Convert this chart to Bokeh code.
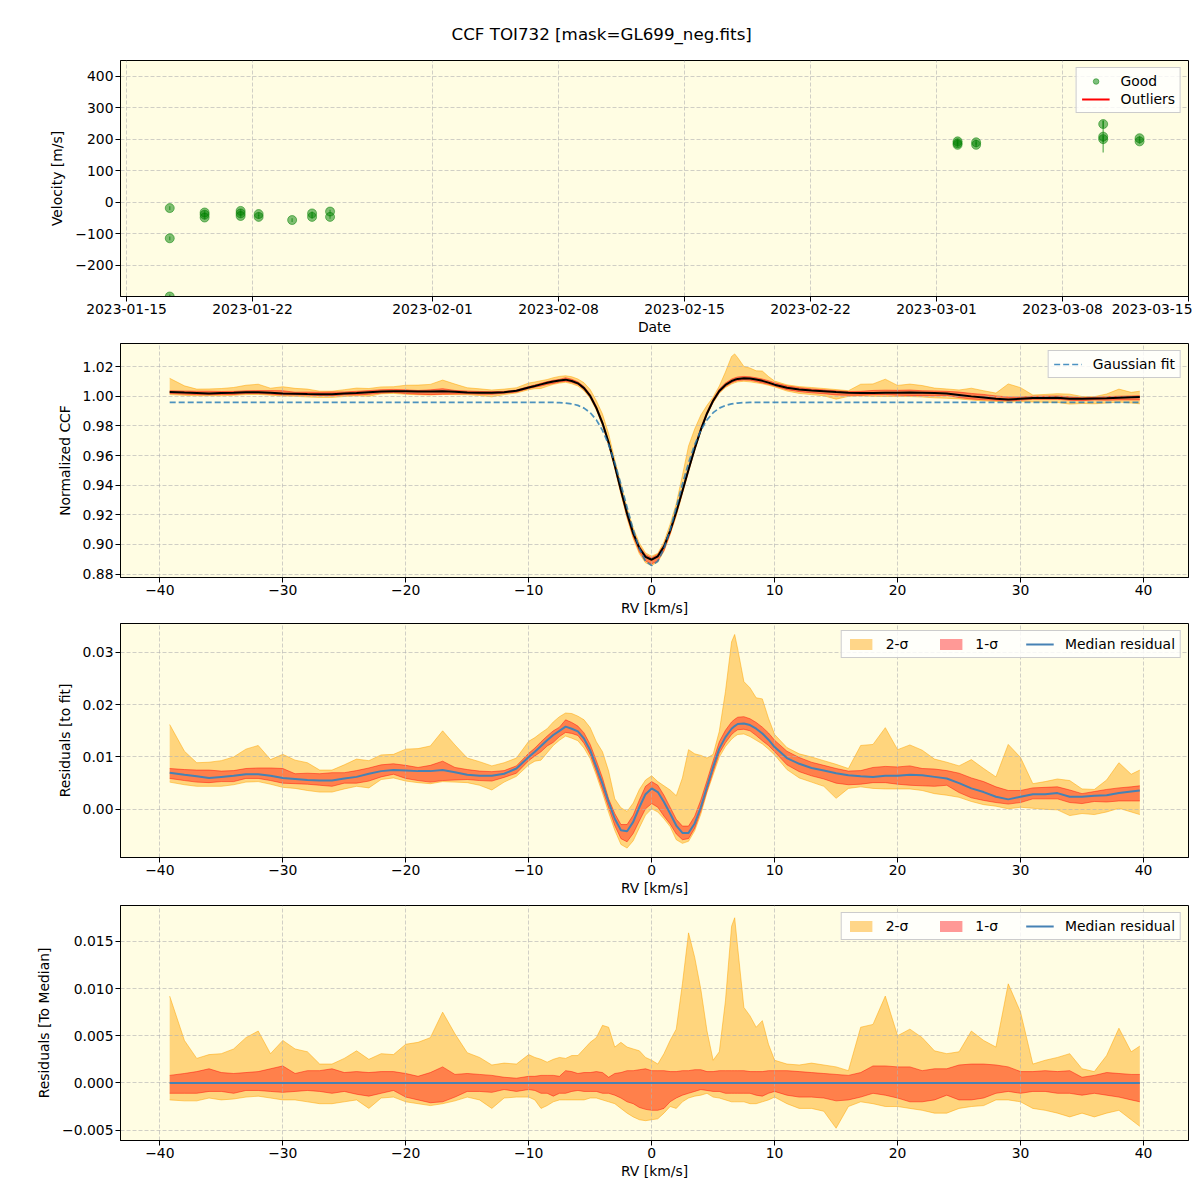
import numpy as np
import pandas as pd
from bokeh.plotting import figure
from bokeh.layouts import column
from bokeh.models import (Range1d, FixedTicker, DatetimeTickFormatter, Legend,
                          LegendItem, ColumnDataSource)
from bokeh.embed import file_html
from bokeh.resources import INLINE

# ---------------- data: RV time series ----------------
obs_time = ["2023-01-17 09:40", "2023-01-17 09:40", "2023-01-17 09:40",
            "2023-01-19 08:10", "2023-01-19 08:10", "2023-01-19 08:10",
            "2023-01-21 08:10", "2023-01-21 08:10", "2023-01-21 08:10",
            "2023-01-22 08:10", "2023-01-22 08:10",
            "2023-01-24 04:50",
            "2023-01-25 07:25", "2023-01-25 07:25",
            "2023-01-26 07:25", "2023-01-26 07:25",
            "2023-03-02 04:05", "2023-03-02 04:05", "2023-03-02 04:05",
            "2023-03-03 04:50", "2023-03-03 04:50",
            "2023-03-10 06:15", "2023-03-10 06:15", "2023-03-10 06:15",
            "2023-03-12 06:45", "2023-03-12 06:45"]
velocity = [-19, -115, -300, -33, -40, -49, -28, -36, -44, -38, -47, -57, -36, -47,
            -30, -47, 193, 187, 182, 190, 182, 248, 208, 200, 203, 193]
vel_err = [6, 6, 6, 6, 6, 6, 6, 6, 6, 6, 6, 6, 6, 6, 6, 6, 8, 8, 8, 8, 8, 12, 50, 10, 8, 8]
# no outliers in this data set
outlier_time = [np.nan]
outlier_velocity = [np.nan]

date_ticks = ["2023-01-15", "2023-01-22", "2023-02-01", "2023-02-08", "2023-02-15",
              "2023-02-22", "2023-03-01", "2023-03-08", "2023-03-15"]
vel_ticks = [-200, -100, 0, 100, 200, 300, 400]
vel_tick_labels = ["\u2212200", "\u2212100", "0", "100", "200", "300", "400"]

# ---------------- data: CCF ----------------
rv = [-39.2, -38, -37, -36, -35, -34, -33, -32, -31, -30, -29, -28, -27, -26, -25,
      -24, -23, -22, -21, -20, -19, -18, -17, -16, -15, -14, -13, -12, -11,
      -10, -9.5, -9, -8.5, -8, -7.5, -7, -6.5, -6, -5.5, -5, -4.5, -4, -3.5, -3, -2.5,
      -2, -1.5, -1, -0.5, 0, 0.5, 1, 1.5, 2, 2.5, 3, 3.5, 4, 4.5, 5, 5.5, 6, 6.5, 6.75,
      7, 7.5, 8, 8.5, 9, 9.5, 10,
      11, 12, 13, 14, 15, 16, 17, 18, 19, 20, 21, 22, 23, 24, 25, 26, 27, 28, 29, 30,
      31, 32, 33, 34, 35, 36, 37, 38, 39, 39.7]

# Gaussian fit parameters
fit_continuum = 0.996
fit_depth = 0.1103
fit_center = 0.0
fit_sigma = 2.13

# median residual to fit
median_residual = [
    0.0070, 0.0066, 0.0063, 0.0060, 0.0062, 0.0064, 0.0067, 0.0067, 0.0064, 0.0060,
    0.0058, 0.0056, 0.0055, 0.0055, 0.0059, 0.0062, 0.0068, 0.0073, 0.0075, 0.0074,
    0.0073, 0.0073, 0.0075, 0.0071, 0.0066, 0.0064, 0.0064, 0.0068, 0.0078,
    0.0100, 0.0110, 0.0121, 0.0132, 0.0142, 0.0150, 0.0158, 0.0154, 0.0149, 0.0135,
    0.0113, 0.0081, 0.0049, 0.0014, -0.0018, -0.0040, -0.0042, -0.0024, 0.0004, 0.0029,
    0.0040, 0.0033, 0.0014, -0.0008, -0.0031, -0.0045, -0.0045, -0.0027, 0.0004, 0.0043,
    0.0081, 0.0116, 0.0138, 0.0154, 0.0159, 0.0163, 0.0164, 0.0161, 0.0154, 0.0145,
    0.0133, 0.0119,
    0.0098, 0.0087, 0.0079, 0.0074, 0.0069, 0.0065, 0.0063, 0.0062, 0.0064, 0.0064,
    0.0066, 0.0065, 0.0062, 0.0059, 0.0050, 0.0040, 0.0033, 0.0024, 0.0019, 0.0024,
    0.0029, 0.0029, 0.0031, 0.0024, 0.0024, 0.0026, 0.0027, 0.0031, 0.0034, 0.0036]

# band offsets relative to the median
upper_2sigma = [
    0.0092, 0.0045, 0.0026, 0.0030, 0.0031, 0.0036, 0.0048, 0.0055, 0.0031, 0.0045,
    0.0036, 0.0033, 0.0020, 0.0020, 0.0026, 0.0034, 0.0025, 0.0031, 0.0030, 0.0041,
    0.0043, 0.0048, 0.0075, 0.0052, 0.0032, 0.0027, 0.0019, 0.0021, 0.0020,
    0.0030, 0.0027, 0.0025, 0.0022, 0.0025, 0.0027, 0.0026, 0.0029, 0.0029, 0.0036,
    0.0043, 0.0048, 0.0061, 0.0059, 0.0038, 0.0043, 0.0038, 0.0036, 0.0034, 0.0027,
    0.0024, 0.0020, 0.0031, 0.0045, 0.0057, 0.0105, 0.0159, 0.0133, 0.0099, 0.0055,
    0.0024, 0.0033, 0.0087, 0.0166, 0.0175, 0.0143, 0.0080, 0.0071, 0.0059, 0.0066,
    0.0041, 0.0024,
    0.0020, 0.0019, 0.0021, 0.0019, 0.0017, 0.0013, 0.0059, 0.0062, 0.0092, 0.0050,
    0.0057, 0.0048, 0.0034, 0.0031, 0.0033, 0.0055, 0.0045, 0.0038, 0.0105, 0.0075,
    0.0020, 0.0024, 0.0027, 0.0031, 0.0015, 0.0012, 0.0029, 0.0058, 0.0033, 0.0039]
upper_1sigma = [
    0.0008, 0.0010, 0.0012, 0.0015, 0.0011, 0.0010, 0.0011, 0.0012, 0.0015, 0.0018,
    0.0010, 0.0013, 0.0013, 0.0015, 0.0011, 0.0012, 0.0011, 0.0012, 0.0012, 0.0010,
    0.0007, 0.0011, 0.0017, 0.0009, 0.0010, 0.0009, 0.0008, 0.0006, 0.0005,
    0.0007, 0.0007, 0.0008, 0.0008, 0.0008, 0.0007, 0.0013, 0.0012, 0.0010, 0.0011,
    0.0011, 0.0012, 0.0011, 0.0006, 0.0010, 0.0011, 0.0013, 0.0013, 0.0014, 0.0015,
    0.0013, 0.0013, 0.0013, 0.0012, 0.0012, 0.0013, 0.0013, 0.0014, 0.0014, 0.0012,
    0.0012, 0.0013, 0.0013, 0.0013, 0.0013, 0.0013, 0.0013, 0.0012, 0.0012, 0.0012,
    0.0013, 0.0013,
    0.0013, 0.0012, 0.0011, 0.0010, 0.0009, 0.0008, 0.0011, 0.0018, 0.0018, 0.0017,
    0.0017, 0.0013, 0.0015, 0.0015, 0.0019, 0.0020, 0.0020, 0.0019, 0.0017, 0.0012,
    0.0012, 0.0013, 0.0012, 0.0013, 0.0006, 0.0008, 0.0011, 0.0010, 0.0009, 0.0009]
lower_1sigma = [
    -0.0011, -0.0011, -0.0011, -0.0009, -0.0009, -0.0011, -0.0008, -0.0008, -0.0009, -0.0010,
    -0.0009, -0.0008, -0.0009, -0.0011, -0.0009, -0.0012, -0.0014, -0.0011, -0.0008, -0.0015,
    -0.0018, -0.0021, -0.0020, -0.0015, -0.0009, -0.0009, -0.0010, -0.0007, -0.0009,
    -0.0007, -0.0008, -0.0011, -0.0011, -0.0014, -0.0011, -0.0011, -0.0009, -0.0008, -0.0009,
    -0.0009, -0.0009, -0.0011, -0.0011, -0.0013, -0.0016, -0.0020, -0.0022, -0.0026, -0.0028,
    -0.0029, -0.0029, -0.0027, -0.0020, -0.0016, -0.0013, -0.0011, -0.0009, -0.0007, -0.0008,
    -0.0009, -0.0009, -0.0011, -0.0011, -0.0011, -0.0011, -0.0011, -0.0011, -0.0013, -0.0014,
    -0.0011, -0.0009,
    -0.0013, -0.0015, -0.0015, -0.0016, -0.0019, -0.0018, -0.0015, -0.0011, -0.0013, -0.0016,
    -0.0020, -0.0020, -0.0018, -0.0013, -0.0018, -0.0018, -0.0016, -0.0011, -0.0009, -0.0011,
    -0.0009, -0.0009, -0.0011, -0.0011, -0.0013, -0.0011, -0.0013, -0.0015, -0.0018, -0.0020]
lower_2sigma = [
    -0.0018, -0.0019, -0.0019, -0.0016, -0.0018, -0.0017, -0.0015, -0.0014, -0.0016, -0.0018,
    -0.0018, -0.0020, -0.0022, -0.0022, -0.0020, -0.0018, -0.0027, -0.0016, -0.0015, -0.0020,
    -0.0022, -0.0024, -0.0022, -0.0019, -0.0015, -0.0018, -0.0027, -0.0016, -0.0015,
    -0.0015, -0.0018, -0.0027, -0.0024, -0.0020, -0.0018, -0.0018, -0.0018, -0.0018, -0.0018,
    -0.0016, -0.0016, -0.0018, -0.0020, -0.0022, -0.0027, -0.0032, -0.0036, -0.0039, -0.0040,
    -0.0039, -0.0038, -0.0032, -0.0025, -0.0027, -0.0020, -0.0016, -0.0014, -0.0013, -0.0011,
    -0.0015, -0.0016, -0.0018, -0.0020, -0.0020, -0.0020, -0.0020, -0.0022, -0.0022, -0.0020,
    -0.0018, -0.0015,
    -0.0022, -0.0027, -0.0027, -0.0030, -0.0048, -0.0025, -0.0020, -0.0022, -0.0025, -0.0025,
    -0.0027, -0.0029, -0.0032, -0.0032, -0.0027, -0.0025, -0.0024, -0.0018, -0.0018, -0.0020,
    -0.0027, -0.0029, -0.0032, -0.0036, -0.0032, -0.0036, -0.0032, -0.0029, -0.0039, -0.0046]

rv_ticks = [-40, -30, -20, -10, 0, 10, 20, 30, 40]
rv_tick_labels = ["\u221240", "\u221230", "\u221220", "\u221210", "0", "10", "20", "30", "40"]
ccf_ticks = [0.88, 0.90, 0.92, 0.94, 0.96, 0.98, 1.00, 1.02]
ccf_tick_labels = ["0.88", "0.90", "0.92", "0.94", "0.96", "0.98", "1.00", "1.02"]
res_ticks = [0.00, 0.01, 0.02, 0.03]
res_tick_labels = ["0.00", "0.01", "0.02", "0.03"]
rmed_ticks = [-0.005, 0.0, 0.005, 0.010, 0.015]
rmed_tick_labels = ["\u22120.005", "0.000", "0.005", "0.010", "0.015"]

# ---------------- derived ----------------
rv_a = np.array(rv, dtype=float)
med = np.array(median_residual)
u2 = np.array(upper_2sigma); u1 = np.array(upper_1sigma)
l1 = np.array(lower_1sigma); l2 = np.array(lower_2sigma)
fit = fit_continuum - fit_depth * np.exp(-0.5 * ((rv_a - fit_center) / fit_sigma) ** 2)
ccf = fit + med

FONT = "DejaVu Sans"
FS = "13.9px"
BG = "#fffde3"
ORANGE = "orange"
RED = "red"
BLUE = "#1f77b4"
W = 1192


def make_fig(height, top, bottom, x_range, y_range, xlabel, ylabel, **kw):
    p = figure(width=W, height=height, x_range=x_range, y_range=y_range,
               output_backend="svg", toolbar_location=None,
               min_border_left=120, min_border_right=4,
               min_border_top=top, min_border_bottom=bottom, **kw)
    p.background_fill_color = BG
    p.border_fill_color = "white"
    p.outline_line_color = "black"
    p.outline_line_width = 1
    p.outline_line_alpha = 1
    for ax in (p.xaxis[0], p.yaxis[0]):
        ax.axis_label_text_font = FONT
        ax.axis_label_text_font_style = "normal"
        ax.axis_label_text_font_size = FS
        ax.axis_label_text_color = "black"
        ax.major_label_text_font = FONT
        ax.major_label_text_font_size = FS
        ax.major_label_text_color = "black"
        ax.major_tick_line_color = "black"
        ax.major_tick_out = 5
        ax.major_tick_in = 0
        ax.minor_tick_line_color = None
        ax.axis_line_color = "black"
        ax.major_label_standoff = 2
    p.xaxis.axis_label = xlabel
    p.yaxis.axis_label = ylabel
    p.xaxis.axis_label_standoff = 2
    p.yaxis.axis_label_standoff = 7
    p.grid.grid_line_color = "#b0b0b0"
    p.grid.grid_line_alpha = 0.6
    p.grid.grid_line_dash = "4 2"
    p.grid.grid_line_width = 1
    return p


def style_legend(leg, horizontal=False):
    leg.label_text_font = FONT
    leg.label_text_font_size = FS
    leg.label_text_color = "black"
    leg.border_line_color = "#cccccc"
    leg.border_line_alpha = 1
    leg.background_fill_color = "white"
    leg.background_fill_alpha = 0.8
    leg.padding = 5
    leg.margin = 7
    leg.spacing = 28 if horizontal else 2
    leg.glyph_width = 28
    leg.glyph_height = 14
    leg.label_standoff = 11
    leg.label_height = 16
    if horizontal:
        leg.orientation = "horizontal"


def add_bands(p, src, lo2, hi2, lo1, hi1):
    b2 = p.varea(x="rv", y1=lo2, y2=hi2, source=src, fill_color=ORANGE,
                 fill_alpha=0.45, level="image")
    p.line(x="rv", y=lo2, source=src, line_color=ORANGE, line_alpha=0.5, line_width=1, level="image")
    p.line(x="rv", y=hi2, source=src, line_color=ORANGE, line_alpha=0.5, line_width=1, level="image")
    b1 = p.varea(x="rv", y1=lo1, y2=hi1, source=src, fill_color=RED,
                 fill_alpha=0.4, level="image")
    p.line(x="rv", y=lo1, source=src, line_color=RED, line_alpha=0.45, line_width=1, level="image")
    p.line(x="rv", y=hi1, source=src, line_color=RED, line_alpha=0.45, line_width=1, level="image")
    return b2, b1


# ---------------- panel 1 ----------------
t = pd.to_datetime(obs_time)
v = np.array(velocity, dtype=float)
e = np.array(vel_err, dtype=float)
src1 = ColumnDataSource(dict(t=t, v=v, lo=v - e, hi=v + e))
x1 = Range1d(start=pd.Timestamp("2023-01-14 16:00"), end=pd.Timestamp("2023-03-15 00:00"))
p1 = make_fig(338, 60, 42, x1, Range1d(-300, 450), "Date", "Velocity [m/s]",
              x_axis_type="datetime")
p1.xaxis.ticker = FixedTicker(ticks=[pd.Timestamp(d).value / 1e6 for d in date_ticks])
p1.xaxis.formatter = DatetimeTickFormatter(days="%Y-%m-%d", months="%Y-%m-%d",
                                           hours="%Y-%m-%d", years="%Y-%m-%d")
p1.yaxis.ticker = FixedTicker(ticks=vel_ticks)
p1.yaxis.major_label_overrides = {tk: lb for tk, lb in zip(vel_ticks, vel_tick_labels)}
p1.segment(x0="t", y0="lo", x1="t", y1="hi", source=src1, line_color="green",
           line_alpha=0.5, line_width=1.5)
good = p1.scatter(x="t", y="v", source=src1, size=9, marker="circle",
                  fill_color="green", fill_alpha=0.5, line_color="green", line_alpha=0.5)
outl = p1.line(x=outlier_time, y=outlier_velocity, line_color="red", line_width=2)
p1.title.text = "CCF TOI732 [mask=GL699_neg.fits]"
p1.title.align = "left"
p1.title.text_font = FONT
p1.title.text_font_size = "16.7px"
p1.title.text_font_style = "normal"
p1.title.text_color = "black"
p1.title.offset = 331
p1.title.standoff = 33
leg1 = Legend(items=[LegendItem(label="Good", renderers=[good]),
                     LegendItem(label="Outliers", renderers=[outl])], location="top_right")
style_legend(leg1)
p1.add_layout(leg1)

# ---------------- panel 2 ----------------
src2 = ColumnDataSource(dict(rv=rv_a, fit=fit, ccf=ccf,
                             lo2=fit + med + l2, hi2=fit + med + u2,
                             lo1=fit + med + l1, hi1=fit + med + u1))
xr = Range1d(-43.2, 43.66)
p2 = make_fig(280, 5, 41, xr, Range1d(0.8777, 1.0357), "RV [km/s]", "Normalized CCF")
p2.xaxis.ticker = FixedTicker(ticks=rv_ticks)
p2.xaxis.major_label_overrides = {tk: lb for tk, lb in zip(rv_ticks, rv_tick_labels)}
p2.yaxis.ticker = FixedTicker(ticks=ccf_ticks)
p2.yaxis.major_label_overrides = {tk: lb for tk, lb in zip(ccf_ticks, ccf_tick_labels)}
add_bands(p2, src2, "lo2", "hi2", "lo1", "hi1")
p2.line(x="rv", y="ccf", source=src2, line_color="black", line_width=2)
fl = p2.line(x="rv", y="fit", source=src2, line_color=BLUE, line_alpha=0.8,
             line_width=1.7, line_dash="6 3")
leg2 = Legend(items=[LegendItem(label="Gaussian fit", renderers=[fl])], location="top_right")
style_legend(leg2)
p2.add_layout(leg2)

# ---------------- panel 3 ----------------
src3 = ColumnDataSource(dict(rv=rv_a, med=med, lo2=med + l2, hi2=med + u2,
                             lo1=med + l1, hi1=med + u1))
p3 = make_fig(282, 5, 43, Range1d(-43.2, 43.66), Range1d(-0.0092, 0.0355),
              "RV [km/s]", "Residuals [to fit]")
p3.xaxis.ticker = FixedTicker(ticks=rv_ticks)
p3.xaxis.major_label_overrides = {tk: lb for tk, lb in zip(rv_ticks, rv_tick_labels)}
p3.yaxis.ticker = FixedTicker(ticks=res_ticks)
p3.yaxis.major_label_overrides = {tk: lb for tk, lb in zip(res_ticks, res_tick_labels)}
b2, b1 = add_bands(p3, src3, "lo2", "hi2", "lo1", "hi1")
ml = p3.line(x="rv", y="med", source=src3, line_color="steelblue", line_width=2)
leg3 = Legend(items=[LegendItem(label="2-\u03c3", renderers=[b2]),
                     LegendItem(label="1-\u03c3", renderers=[b1]),
                     LegendItem(label="Median residual", renderers=[ml])], location="top_right")
style_legend(leg3, horizontal=True)
p3.add_layout(leg3)

# ---------------- panel 4 ----------------
zero = med - med
src4 = ColumnDataSource(dict(rv=rv_a, med=zero, lo2=l2, hi2=u2, lo1=l1, hi1=u1))
p4 = make_fig(285, 5, 45, Range1d(-43.2, 43.66), Range1d(-0.0061, 0.0188),
              "RV [km/s]", "Residuals [To Median]")
p4.xaxis.ticker = FixedTicker(ticks=rv_ticks)
p4.xaxis.major_label_overrides = {tk: lb for tk, lb in zip(rv_ticks, rv_tick_labels)}
p4.yaxis.ticker = FixedTicker(ticks=rmed_ticks)
p4.yaxis.major_label_overrides = {tk: lb for tk, lb in zip(rmed_ticks, rmed_tick_labels)}
c2, c1 = add_bands(p4, src4, "lo2", "hi2", "lo1", "hi1")
ml4 = p4.line(x="rv", y="med", source=src4, line_color="steelblue", line_width=2)
leg4 = Legend(items=[LegendItem(label="2-\u03c3", renderers=[c2]),
                     LegendItem(label="1-\u03c3", renderers=[c1]),
                     LegendItem(label="Median residual", renderers=[ml4])], location="top_right")
style_legend(leg4, horizontal=True)
p4.add_layout(leg4)

layout = column(p1, p2, p3, p4, spacing=0)
open("out.html", "w").write(file_html(layout, INLINE))
